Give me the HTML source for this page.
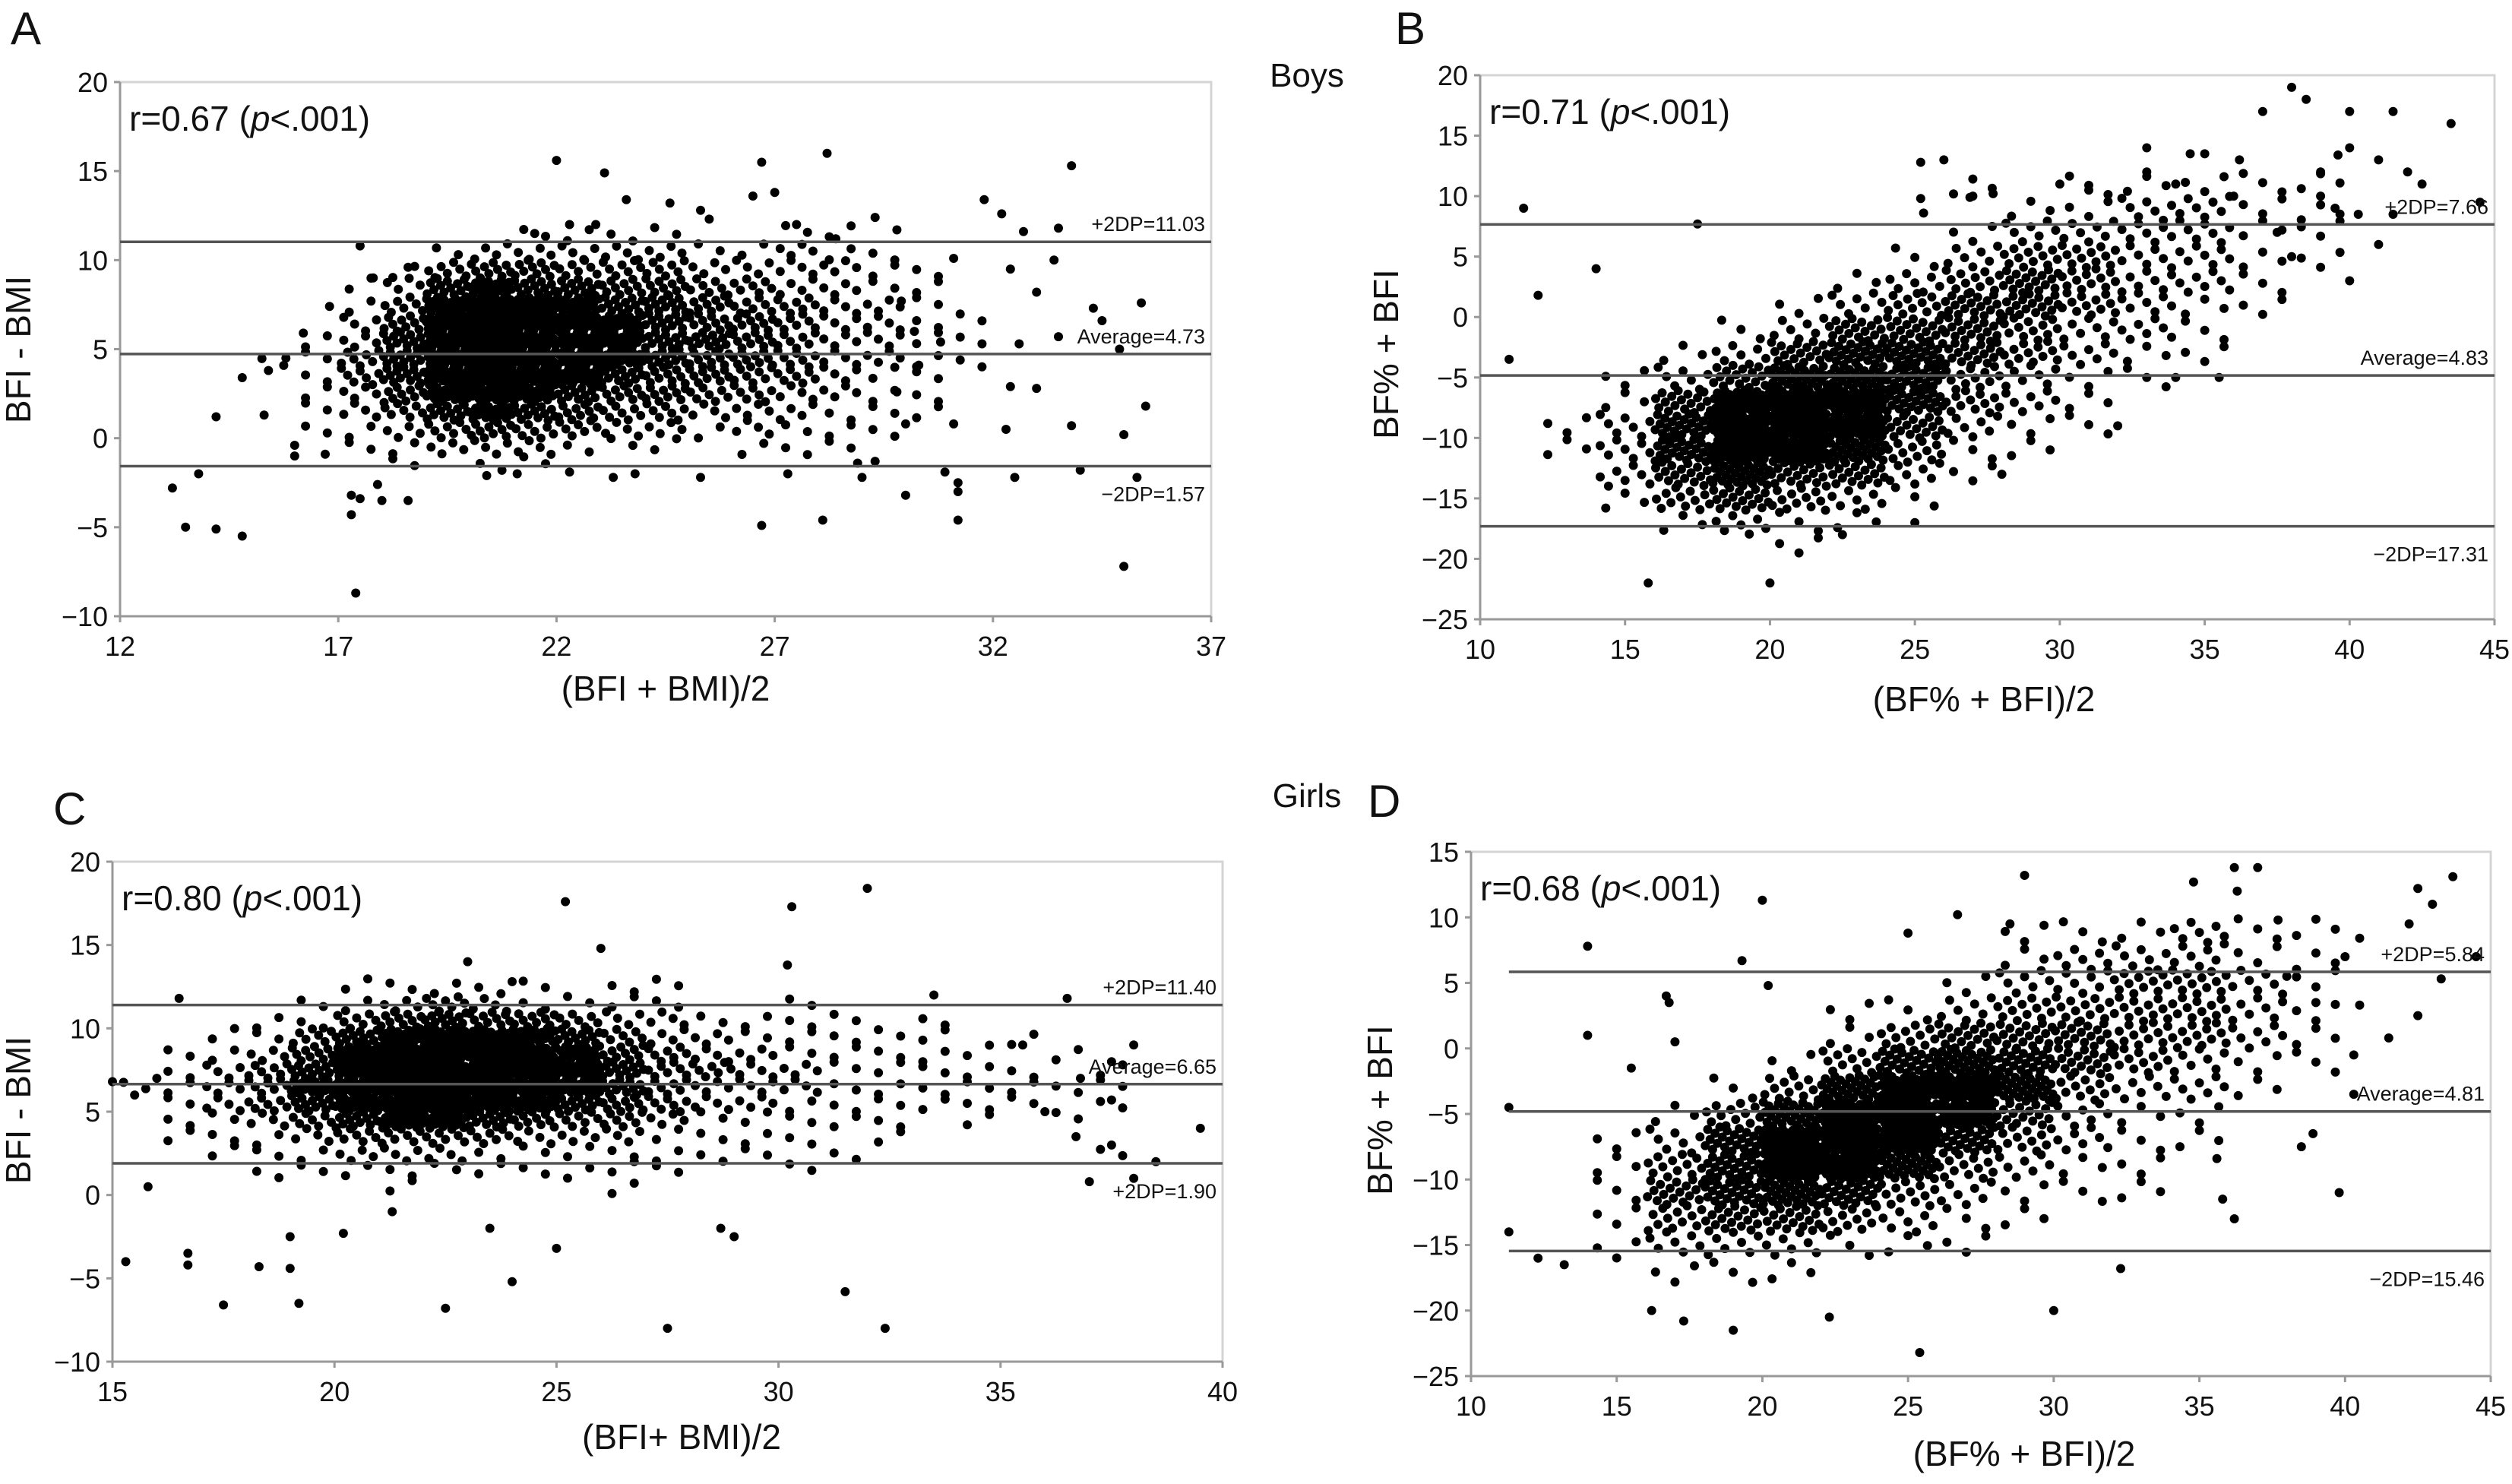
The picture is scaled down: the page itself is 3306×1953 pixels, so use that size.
<!DOCTYPE html>
<html><head><meta charset="utf-8"><style>
html,body{margin:0;padding:0;background:#fff}
svg{display:block}
text{font-family:"Liberation Sans Narrow","Liberation Sans",sans-serif;fill:#111}
</style></head><body>
<svg id="fig" width="3306" height="1953" viewBox="0 0 3306 1953" xmlns="http://www.w3.org/2000/svg">
<g id="root"></g>
</svg>
<script>
// ---------- DATA ----------
// Panel A: BFI - BMI (boys)
const aXTicks = [12,17,22,27,32,37];
const aYTicks = [-10,-5,0,5,10,15,20];
const aLines = [11.03, 4.73, -1.57];
const aLineLabels = ["+2DP=11.03","Average=4.73","\u22122DP=1.57"];
const aDensity = [
"00000011110011000",
"00001222221121100",
"00013443332222110",
"00125655443322110",
"00137876554332210",
"00248987654432211",
"01258987655432211",
"11358987654432211",
"01358987544332110",
"01246765443322110",
"01235654332221110",
"01123433221211100",
"00112221110111000",
"00010110000000000"];
const aOutliers = [[13.2,-2.8],[13.5,-5],[13.8,-2],[14.2,1.2],[14.2,-5.1],[14.8,3.4],[14.8,-5.5],[15.3,1.3],[15.4,3.8],[15.8,4.5],[16,-0.4],[16,-1],[16.2,5.9],[16.7,-0.9],[16.8,7.4],[17.3,-3.2],[17.5,10.8],[17.3,-4.3],[17.4,-8.7],[17.5,-3.4],[17.8,9],[17.9,-2.6],[18,-3.5],[18.6,-3.5],[18.6,9.6],[21.5,11.5],[22,15.6],[22.3,12],[23.1,14.9],[22.9,12],[23.6,13.4],[24.6,13.2],[25.3,12.8],[25.5,12.3],[26.5,13.6],[26.7,15.5],[27,13.8],[27.5,12],[28.2,16],[28.4,11.2],[29.3,12.4],[29.8,11.7],[31.1,10.1],[31.8,13.4],[32.2,12.6],[32.4,9.5],[32.7,11.6],[33,8.2],[33.5,11.8],[33.4,10],[33.8,15.3],[34.3,7.3],[34.5,6.6],[35.4,7.6],[35.5,1.8],[35,0.2],[35,-7.2],[35.3,-2.2],[34,-1.8],[31.2,-4.6],[31.2,-3],[31.2,-2.5],[30.9,-1.9],[30,-3.2],[28.1,-4.6],[26.7,-4.9],[27.3,-2],[25.3,-2.2],[23.8,-2],[23.3,-2.2],[22.3,-1.9],[21.1,-2],[20.4,-2.1],[28.9,-1.4],[29.3,-1.3],[29,-2.2],[32.5,-2.2],[33.8,0.7],[34.9,5],[33.5,5.7],[32.6,5.3],[32.4,2.9],[33,2.8],[32.3,0.5],[31.1,0.8],[30.3,4.1],[30.8,5.4],[29.9,7.7],[30.2,6],[29.8,2.6],[30,0.8]];

// Panel B: BF% + BFI (boys)
const bXTicks = [10,15,20,25,30,35,40,45];
const bYTicks = [-25,-20,-15,-10,-5,0,5,10,15,20];
const bLines = [7.66, -4.83, -17.31];
const bLineLabels = ["+2DP=7.66","Average=4.83","\u22122DP=17.31"];
const bDensity = [
"00000001011111",
"00000000112211",
"00000001222211",
"00000012332211",
"00000123432210",
"00001234432110",
"00012444322100",
"00124554321100",
"01246653211000",
"01478753210000",
"12589742110000",
"12588631100000",
"02464421000000",
"01343210000000",
"00121100000000",
"00001000000000"];
const bOutliers = [[11.5,9],[17.5,7.7],[12,1.8],[14,4],[11,-3.5],[15.8,-22],[20,-22],[25.2,12.8],[26,13],[27,10],[35,13.5],[36.2,13],[37,17],[38,19],[38.5,18],[39,12],[39,10],[40,17],[40,14],[41,13],[41.5,17],[42,12],[42.5,11],[43.5,16],[44.5,9.5],[41,6],[40,3],[41.5,8.5],[37.5,7],[38,5],[35.5,-5],[34,-5],[32,-9],[22.5,-18],[25,-17],[28,-13],[36,10],[33,12],[34,11],[39.5,9],[33,14],[34.5,13.5],[30,11],[31,10.5],[25.2,9.8],[25.3,8.6],[26.9,9.9],[27.7,10.2],[39.6,13.4],[40.3,8.5]];

// Panel C: BFI - BMI (girls)
const cXTicks = [15,20,25,30,35,40];
const cYTicks = [-10,-5,0,5,10,15,20];
const cLines = [11.40, 6.65, 1.90];
const cLineLabels = ["+2DP=11.40","Average=6.65","+2DP=1.90"];
const cDensity = [
"00000111110110000000000",
"00001123211110010000000",
"00011345443221111010000",
"00113578765322111110100",
"01124799986432211111010",
"01235899997533221111101",
"11236899987532221111111",
"01235789875432211111101",
"01123566543321111101010",
"01112333322211110100000",
"00111222111111101000001",
"00011111111110010000000",
"00000010000100000000000"];
const cOutliers = [[15.3,-4],[15.8,0.5],[16.7,-3.5],[16.7,-4.2],[17.5,-6.6],[18.3,-4.3],[19,-2.5],[19,-4.4],[19.2,-6.5],[20.2,-2.3],[21.3,-1],[22.5,-6.8],[23.5,-2],[24,-5.2],[25,-3.2],[27.5,-8],[28.7,-2],[29,-2.5],[31.5,-5.8],[32.4,-8],[25.2,17.6],[30.3,17.3],[32,18.4],[30.2,13.8],[33.5,12],[36.5,11.8],[35.5,9],[36,5],[37.5,3],[38.5,2],[38,1],[37,0.8],[39.5,4],[38,9],[37.5,8],[36.8,7],[36.7,3.5],[37.5,5.7],[26,14.8],[23,14],[24,12.8],[16.5,11.8],[15,6.8],[15.5,6],[16,7]];

// Panel D: BF% + BFI (girls)
const dXTicks = [10,15,20,25,30,35,40,45];
const dYTicks = [-25,-20,-15,-10,-5,0,5,10,15];
const dLines = [5.84, -4.81, -15.46];
const dLineLabels = ["+2DP=5.84","Average=4.81","\u22122DP=15.46"];
const dDensity = [
"00000000111211",
"00000000122211",
"00000001223321",
"00000112333321",
"00000134443321",
"00001356543211",
"00013678632210",
"00136887421100",
"01258985321100",
"01358863211000",
"01456532111000",
"01344321100000",
"01222111000000",
"00111000000000"];
const dOutliers = [[11.3,-4.5],[11.3,-14],[12.3,-16],[13.2,-16.5],[14,7.8],[14,1],[15.5,-1.5],[16.7,4],[16.8,3.5],[17,0.5],[17.3,-20.8],[16.2,-20],[19,-21.5],[19.3,6.7],[20,11.3],[20.2,4.8],[22.3,-20.5],[25.4,-23.2],[25,8.8],[26.7,10.2],[29,13.2],[28.5,9.5],[30,-20],[32.3,-16.8],[34.8,12.7],[36.2,13.8],[37,13.8],[36.3,12],[37.7,9.8],[40.5,8.4],[40,7],[42.2,9.5],[42.5,12.2],[43,11],[43.7,13.1],[44.5,7],[42.5,2.5],[41.5,0.8],[40.5,3.3],[39.8,-11],[38.5,-7.5],[38.9,-6.5],[36.2,-13],[35.8,-11.5],[35.6,-8.4],[40.3,-0.5],[40.3,-3.5],[43.3,5.3],[38,5.5],[39,3.5]];

// ---------- RENDER ----------
const NS = "http://www.w3.org/2000/svg";
const root = document.getElementById("root");
function mk(tag, attrs, parent){
  const e = document.createElementNS(NS, tag);
  for (const k in attrs) e.setAttribute(k, attrs[k]);
  (parent||root).appendChild(e);
  return e;
}
function frac(v){ return v - Math.floor(v); }

const panelCfg = [
 {id:"a", letter:"A", lx:14, ly:58, px0:158, px1:1594, py0:108, py1:811, xmin:12, xmax:37, ymin:-10, ymax:20,
  xt:aXTicks, yt:aYTicks, lines:aLines, labels:aLineLabels, dens:aDensity, dx0:15, dtop:11, cw:1, ch:1, cap:28,
  outl:aOutliers, lineStart:12, r:"r=0.67 ", xtitle:"(BFI + BMI)/2", ytitle:"BFI - BMI", xtx:876, xty:922, ytx:40, yty:460},
 {id:"b", letter:"B", lx:1836, ly:58, px0:1948, px1:3283, py0:99, py1:815, xmin:10, xmax:45, ymin:-25, ymax:20,
  xt:bXTicks, yt:bYTicks, lines:bLines, labels:bLineLabels, dens:bDensity, dx0:12, dtop:10, cw:2, ch:2, cap:52,
  outl:bOutliers, lineStart:10, r:"r=0.71 ", xtitle:"(BF% + BFI)/2", ytitle:"BF% + BFI", xtx:2611, xty:936, ytx:1840, yty:466},
 {id:"c", letter:"C", lx:70, ly:1085, px0:148, px1:1609, py0:1134, py1:1792, xmin:15, xmax:40, ymin:-10, ymax:20,
  xt:cXTicks, yt:cYTicks, lines:cLines, labels:cLineLabels, dens:cDensity, dx0:15, dtop:12, cw:1, ch:1, cap:28,
  outl:cOutliers, lineStart:15, r:"r=0.80 ", xtitle:"(BFI+ BMI)/2", ytitle:"BFI - BMI", xtx:897, xty:1907, ytx:40, yty:1461},
 {id:"d", letter:"D", lx:1800, ly:1075, px0:1936, px1:3278, py0:1121, py1:1811, xmin:10, xmax:45, ymin:-25, ymax:15,
  xt:dXTicks, yt:dYTicks, lines:dLines, labels:dLineLabels, dens:dDensity, dx0:12, dtop:8, cw:2, ch:2, cap:52,
  outl:dOutliers, lineStart:11.3, r:"r=0.68 ", xtitle:"(BF% + BFI)/2", ytitle:"BF% + BFI", xtx:2664, xty:1929, ytx:1832, yty:1461}
];

panelCfg.forEach(p => {
  const g = mk("g", {});
  
  
  const sx = v => p.px0 + (v - p.xmin) / (p.xmax - p.xmin) * (p.px1 - p.px0);
  const sy = v => p.py1 - (v - p.ymin) / (p.ymax - p.ymin) * (p.py1 - p.py0);

  const lt = mk("text", {x:p.lx, y:p.ly, "font-size":60}, g);
  lt.textContent = p.letter;
  
  

  const fr = mk("path", {d:`M${p.px0},${p.py0} H${p.px1} V${p.py1}`, fill:"none", stroke:"#d4d4d4", "stroke-width":3}, g);
  
  
  const ax = mk("path", {d:`M${p.px0},${p.py0} V${p.py1} H${p.px1}`, fill:"none", stroke:"#999", "stroke-width":3}, g);
  
  

  p.yt.forEach(v => {
    const y = sy(v);
    mk("line", {x1:p.px0-8, x2:p.px0, y1:y, y2:y, stroke:"#999", "stroke-width":3}, g);
    const t = mk("text", {x:p.px0-16, y:y+13, "font-size":36, "text-anchor":"end"}, g);
    t.textContent = v < 0 ? "\u2212" + Math.abs(v) : String(v);
    
    
  });
  p.xt.forEach(v => {
    const x = sx(v);
    mk("line", {x1:x, x2:x, y1:p.py1, y2:p.py1+8, stroke:"#999", "stroke-width":3}, g);
    const t = mk("text", {x:x, y:p.py1+52, "font-size":36, "text-anchor":"middle"}, g);
    t.textContent = String(v);
    
    
  });

  const dots = mk("g", {fill:"#000"}, g);
  
  
  p.dens.forEach((row, ri) => {
    const yLow = p.dtop - ri * p.ch;
    for (let ci = 0; ci < row.length; ci++) {
      const L = parseInt(row[ci], 10);
      if (!L) continue;
      const n = Math.max(1, Math.round(p.cap * Math.pow(L / 9, 1.3)));
      const xLow = p.dx0 + ci * p.cw;
      const seed = ci * 0.37 + ri * 0.71;
      for (let k = 0; k < n; k++) {
        const fx = (k + 0.5) / n;
        const fy = frac(0.5 + k * 0.618034 + seed);
        const c = mk("circle", {cx:sx(xLow + fx * p.cw).toFixed(1), cy:sy(yLow + fy * p.ch).toFixed(1), r:6}, dots);
        
        
      }
    }
  });
  p.outl.forEach(pt => {
    const c = mk("circle", {cx:sx(pt[0]).toFixed(1), cy:sy(pt[1]).toFixed(1), r:6}, dots);
    
    
  });

  p.lines.forEach((v, i) => {
    const y = sy(v);
    const ln = mk("line", {x1:sx(p.lineStart), x2:p.px1, y1:y, y2:y, stroke:"#555", "stroke-width":3.5}, g);
    
    
    const t = mk("text", {x:p.px1-8, y: i === 2 ? y+46 : y-14, "font-size":27, "text-anchor":"end"}, g);
    t.textContent = p.labels[i];
    
    
  });

  const rt = mk("text", {x:p.px0+12, y:p.py0+64, "font-size":46}, g);
  rt.innerHTML = p.r + '(<tspan font-style="italic">p</tspan>&lt;.001)';
  
  

  const xt = mk("text", {x:p.xtx, y:p.xty, "font-size":46, "text-anchor":"middle"}, g);
  xt.textContent = p.xtitle;
  
  
  const yt = mk("text", {x:p.ytx, y:p.yty, "font-size":46, "text-anchor":"middle", transform:`rotate(-90 ${p.ytx} ${p.yty})`, style:'font-family:"Liberation Sans",sans-serif'}, g);
  yt.textContent = p.ytitle;
  
  
});

const boys = mk("text", {x:1720, y:114, "font-size":44, "text-anchor":"middle"});
boys.textContent = "Boys";


const girls = mk("text", {x:1720, y:1062, "font-size":44, "text-anchor":"middle"});
girls.textContent = "Girls";


</script>
</body></html>
